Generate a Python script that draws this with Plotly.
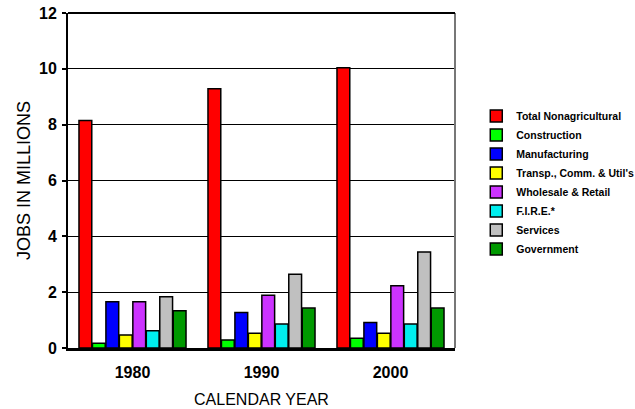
import plotly.graph_objects as go

years = ["1980", "1990", "2000"]
series_names = ["Total Nonagricultural", "Construction", "Manufacturing",
                "Transp., Comm. & Util's", "Wholesale & Retail", "F.I.R.E.*",
                "Services", "Government"]
total_nonag = [8.15, 9.29, 10.04]
construction = [0.17, 0.29, 0.35]
manufacturing = [1.66, 1.27, 0.91]
transp = [0.47, 0.53, 0.53]
wholesale = [1.66, 1.89, 2.23]
fire = [0.62, 0.86, 0.86]
services = [1.84, 2.64, 3.44]
government = [1.33, 1.43, 1.43]
colors = ["#FF0000", "#00FF00", "#0000FF", "#FFFF00", "#CC33FF", "#00EEEE",
          "#C0C0C0", "#009900"]
y_ticks = [0, 2, 4, 6, 8, 10, 12]

values = [total_nonag, construction, manufacturing, transp, wholesale, fire,
          services, government]

fig = go.Figure()
for name, vals, col in zip(series_names, values, colors):
    fig.add_trace(go.Bar(x=years, y=vals, name=name,
                         marker=dict(color=col, line=dict(color="black", width=1.5))))

fig.update_layout(
    width=635, height=409,
    margin=dict(l=68, r=180, t=13, b=61, autoexpand=False),
    paper_bgcolor="white", plot_bgcolor="white",
    barmode="group", bargap=0.165, bargroupgap=0.05,
    font=dict(family="Arial, Liberation Sans, sans-serif", color="black"),
    showlegend=True,
    legend=dict(x=1.055, xanchor="left", y=0.494, yanchor="middle",
                font=dict(size=10.5, family="Arial, Liberation Sans, sans-serif", weight="bold"),
                bgcolor="rgba(0,0,0,0)", traceorder="normal"),
    xaxis=dict(showline=True, linecolor="black", linewidth=3, ticks="",
               tickfont=dict(size=16, weight="bold"), ticklabelstandoff=8,
               title=dict(text="CALENDAR YEAR", font=dict(size=16), standoff=14),
               automargin=False),
    yaxis=dict(range=[0, 12], tickvals=y_ticks, showgrid=True, gridcolor="black",
               gridwidth=1, showline=True, linecolor="black", linewidth=2,
               ticks="outside", ticklen=4, tickwidth=1.5, tickcolor="black",
               tickfont=dict(size=16, weight="bold"), ticklabelstandoff=2,
               zeroline=False,
               title=dict(text="JOBS IN MILLIONS", font=dict(size=18), standoff=4),
               automargin=False),
    shapes=[dict(type="line", xref="paper", yref="paper", x0=1, x1=1, y0=0, y1=1,
                 line=dict(color="#777777", width=2)),
            dict(type="line", xref="paper", yref="paper", x0=0, x1=1, y0=1, y1=1,
                 line=dict(color="black", width=2))],
)

fig.write_html("out.html", config={"displayModeBar": False},
               post_script="document.body.style.margin='0';document.body.style.overflow='hidden';")
